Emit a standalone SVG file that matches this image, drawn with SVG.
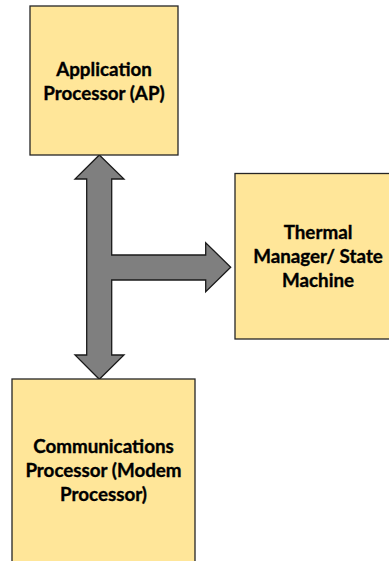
<svg xmlns="http://www.w3.org/2000/svg" width="389" height="561" viewBox="0 0 389 561">
  <style>
    .box { fill: #ffe699; stroke: #262626; stroke-width: 1.3; }
    .label { font-family: Lato, "Liberation Sans", sans-serif; font-weight: bold; font-size: 18.8px; fill: #000; text-anchor: middle; stroke: #000; stroke-width: 0.35; }
    .arrow { fill: #7f7f7f; stroke: #1a1a1a; stroke-width: 1.3; stroke-linejoin: miter; }
  </style>

  <!-- three-way block arrow: AP <-> Modem, branch to thermal manager -->
  <g id="connectors">
    <path class="arrow" d="M99.3,155 L124,179 L111.7,179 L111.7,255 L205.7,255 L205.7,242.7 L230.7,267.3 L205.7,291.7 L205.7,280 L111.7,280 L111.7,355 L124,355 L99.3,379.3 L75,355 L86.7,355 L86.7,179 L75,179 Z"/>
  </g>

  <g id="ap">
    <rect class="box" x="30" y="6" width="148" height="149"/>
    <text class="label" x="104" y="75.5">Application</text>
    <text class="label" x="104" y="99.5">Processor (AP)</text>
  </g>

  <g id="thermal">
    <rect class="box" x="235" y="173.5" width="170" height="165.5"/>
    <text class="label" x="318" y="239">Thermal</text>
    <text class="label" x="318" y="263">Manager/ State</text>
    <text class="label" x="318" y="287">Machine</text>
  </g>

  <g id="modem">
    <rect class="box" x="12" y="379" width="183" height="200"/>
    <text class="label" x="103.5" y="453">Communications</text>
    <text class="label" x="103.5" y="477">Processor (Modem</text>
    <text class="label" x="103.5" y="501">Processor)</text>
  </g>
</svg>
